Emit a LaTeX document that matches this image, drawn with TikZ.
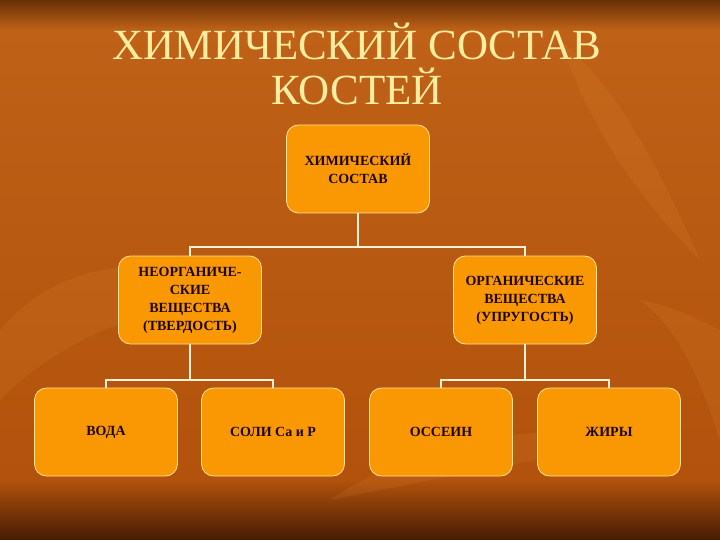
\documentclass[tikz,border=0pt]{standalone}
\usepackage{fontspec}
\setmainfont{Liberation Serif}
\usepackage{tikz}
\usetikzlibrary{calc}

\definecolor{bgmain}{RGB}{178,82,12}
\definecolor{bglight}{RGB}{192,98,24}
\definecolor{bgtop}{RGB}{105,48,6}
\definecolor{bgbottom}{RGB}{70,28,4}
\definecolor{leaf}{RGB}{235,150,60}
\definecolor{boxfill}{RGB}{250,152,4}
\definecolor{boxline}{RGB}{255,226,150}
\definecolor{linkline}{RGB}{255,242,215}
\definecolor{titletext}{RGB}{255,238,160}
\definecolor{boxtext}{RGB}{30,6,0}

\begin{document}
\begin{tikzpicture}[x=1pt,y=-1pt]
    % background
    \useasboundingbox (0,0) rectangle (720,540);
    \shade[top color=bglight, bottom color=bgmain] (0,0) rectangle (720,480);
    \shade[top color=bgtop, bottom color=bglight] (0,0) rectangle (720,30);
    \shade[top color=bgmain, bottom color=bgbottom] (0,480) rectangle (720,540);

    % faint leaves
    \begin{scope}[fill=leaf,opacity=0.13]
        \fill (0,330) .. controls (60,260) and (150,250) .. (250,290)
            .. controls (150,310) and (70,330) .. (0,400) -- cycle;
        \fill (560,40) .. controls (620,90) and (660,170) .. (700,260)
            .. controls (640,200) and (590,130) .. (560,40) -- cycle;
        \fill (330,500) .. controls (420,440) and (530,420) .. (640,440)
            .. controls (540,460) and (430,480) .. (330,500) -- cycle;
        \fill (640,300) .. controls (680,330) and (700,380) .. (720,440)
            -- (720,330) .. controls (700,320) and (670,305) .. (640,300) -- cycle;
    \end{scope}

    % title
    \begin{scope}[every node/.style={anchor=base,text=titletext,
        font=\fontsize{43}{46}\selectfont}]
        \node (titleA) at (357,60) {ХИМИЧЕСКИЙ СОСТАВ};
        \node (titleB) at (357,105) {КОСТЕЙ};
    \end{scope}

    \begin{scope}[every node/.style={rectangle,rounded corners=12pt,draw=boxline,
        line width=0.8pt,fill=boxfill,minimum width=143pt,minimum height=88pt,
        inner sep=2pt,align=center,text=boxtext,
        font=\fontsize{14}{18}\selectfont\bfseries}]
        \node (chem) at (358,169) {ХИМИЧЕСКИЙ\\СОСТАВ};
        \node (inorg) at (190,300) {НЕОРГАНИЧЕ-\\СКИЕ\\ВЕЩЕСТВА\\(ТВЕРДОСТЬ)};
        \node (org) at (525,300) {ОРГАНИЧЕСКИЕ\\ВЕЩЕСТВА\\(УПРУГОСТЬ)};
        \node (water) at (106,432) {ВОДА};
        \node (salts) at (273,432) {СОЛИ Ca и P};
        \node (ossein) at (441,432) {ОССЕИН};
        \node (fats) at (609,432) {ЖИРЫ};
    \end{scope}

    \coordinate (jTop) at (358,247);
    \coordinate (jLeft) at (190,380);
    \coordinate (jRight) at (525,380);

    \begin{scope}[every path/.style={draw=linkline,line width=2pt}]
        \path (chem) -- (jTop);
        \path (jTop) -| (inorg);
        \path (jTop) -| (org);
        \path (inorg) -- (jLeft);
        \path (jLeft) -| (water);
        \path (jLeft) -| (salts);
        \path (org) -- (jRight);
        \path (jRight) -| (ossein);
        \path (jRight) -| (fats);
    \end{scope}
\end{tikzpicture}
\end{document}
